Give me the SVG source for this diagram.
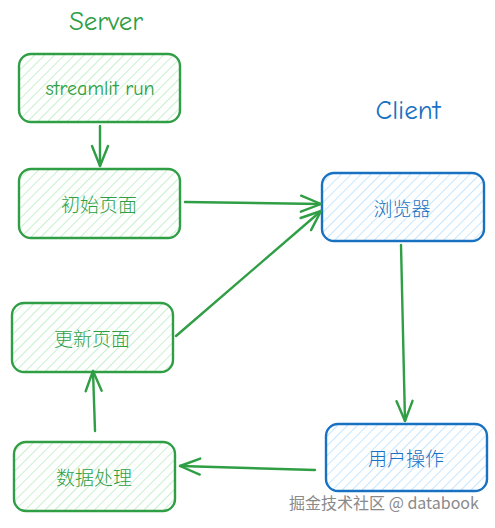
<svg xmlns="http://www.w3.org/2000/svg" width="495" height="528" viewBox="0 0 495 528">
<defs>
<pattern id="hg" patternUnits="userSpaceOnUse" width="7" height="7" patternTransform="rotate(45)">
<line x1="0" y1="0" x2="0" y2="7" stroke="#a9e8b1" stroke-width="1.3"/>
</pattern>
<pattern id="hb" patternUnits="userSpaceOnUse" width="7" height="7" patternTransform="rotate(45)">
<line x1="0" y1="0" x2="0" y2="7" stroke="#a5d8ff" stroke-width="1.3"/>
</pattern>
<marker id="ah" markerUnits="userSpaceOnUse" viewBox="-22 -10 24 20" refX="0" refY="0" markerWidth="24" markerHeight="20" orient="auto">
<path d="M-20,-8 L0,0 L-20,8" fill="none" stroke="#2f9e44" stroke-width="2.4" stroke-linecap="round" stroke-linejoin="round"/>
</marker>
</defs>
<style>
.g rect{fill:url(#hg);stroke:#2f9e44;stroke-width:2.4}
.b rect{fill:url(#hb);stroke:#1971c2;stroke-width:2.4}
.g text{fill:#2f9e44}
.b text{fill:#1971c2}
text{font-family:"Noto Sans CJK SC","Noto Sans",sans-serif;font-size:19px;font-weight:300;text-anchor:middle;dominant-baseline:central}
.t{font-family:"Comic Neue","Lato","Noto Sans",sans-serif;font-size:27px;font-weight:400}
.c path{fill:none;stroke:#2f9e44;stroke-width:2.4;stroke-linecap:round;marker-end:url(#ah)}
</style>
<rect width="495" height="528" fill="#fff"/>
<g id="label-server" class="g"><text class="t" x="106" y="21">Server</text></g>
<g id="label-client" class="b"><text class="t" x="408" y="110">Client</text></g>
<g id="n-streamlit" class="g"><rect x="19" y="54" width="161" height="68" rx="12"/><text x="100" y="88" style="font-family:'Comic Neue','Lato','Noto Sans',sans-serif;font-size:20px;font-weight:400">streamlit run</text></g>
<g id="n-init" class="g"><rect x="19" y="169" width="161" height="69" rx="12"/><text x="99" y="203">初始页面</text></g>
<g id="n-browser" class="b"><rect x="322" y="173" width="162" height="68" rx="12"/><text x="402" y="207">浏览器</text></g>
<g id="n-update" class="g"><rect x="12" y="303" width="161" height="69" rx="12"/><text x="92" y="337">更新页面</text></g>
<g id="n-data" class="g"><rect x="14" y="442" width="161" height="69" rx="12"/><text x="94" y="476">数据处理</text></g>
<g id="n-user" class="b"><rect x="326" y="424" width="161" height="67" rx="12"/><text x="406" y="457">用户操作</text></g>
<g id="connectors" class="c">
<path d="M100,126 L100,166"/>
<path d="M185,202 L321,204"/>
<path d="M176,336 L321,211"/>
<path d="M401,245 L405,421"/>
<path d="M315,470 L180,466"/>
<path d="M95,431 L93,371"/>
</g>
<text x="384" y="502" style="font-family:'Noto Sans CJK SC','Liberation Sans',sans-serif;font-size:16px;font-weight:400;fill:#8a8a8a">掘金技术社区 @ databook</text>
</svg>
